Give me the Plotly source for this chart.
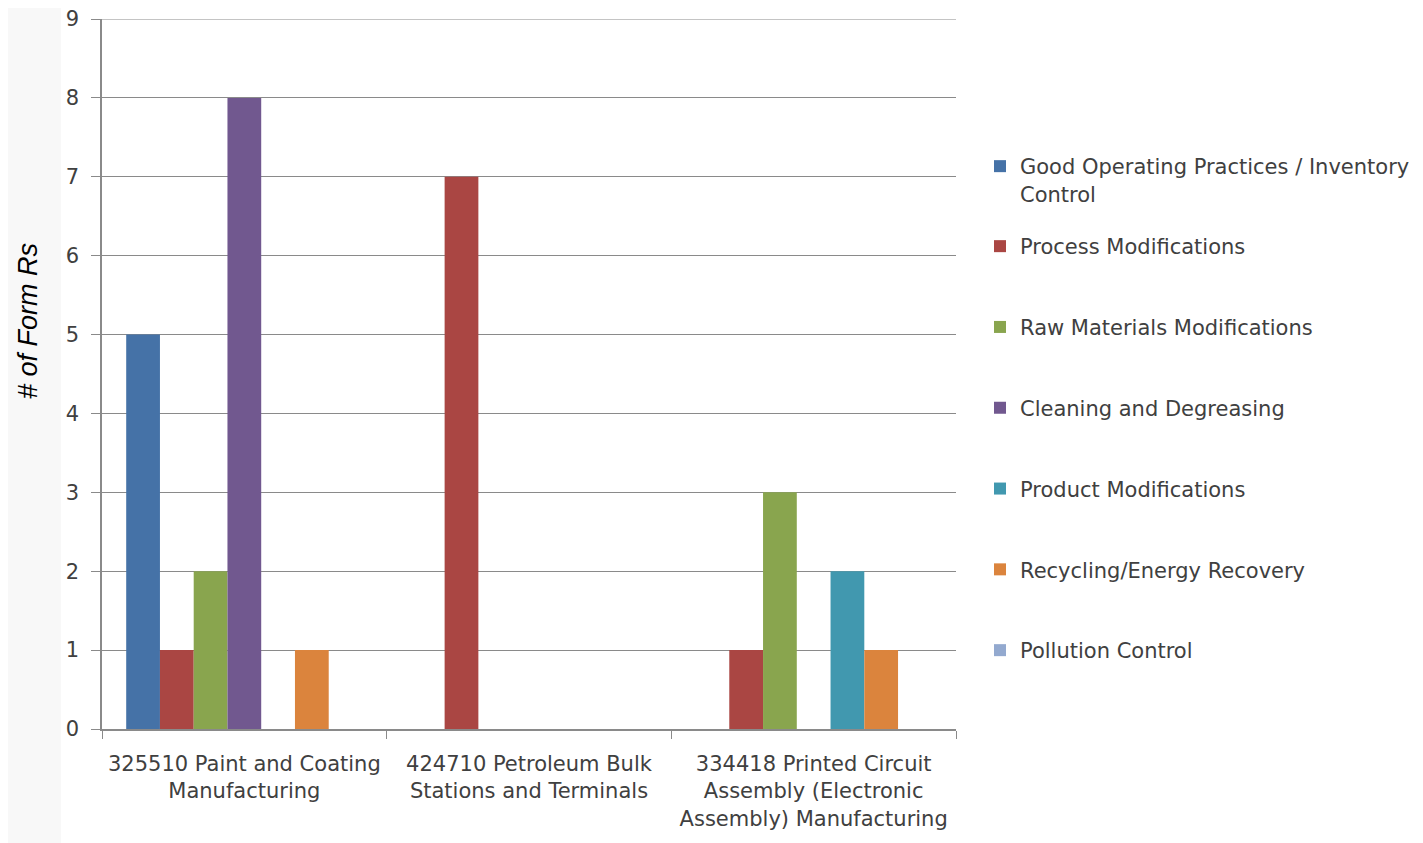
import plotly.graph_objects as go

categories = [
    "325510 Paint and Coating<br>Manufacturing",
    "424710 Petroleum Bulk<br>Stations and Terminals",
    "334418 Printed Circuit<br>Assembly (Electronic<br>Assembly) Manufacturing",
]
series_names = [
    "Good Operating Practices / Inventory<br>Control",
    "Process Modifications",
    "Raw Materials Modifications",
    "Cleaning and Degreasing",
    "Product Modifications",
    "Recycling/Energy Recovery",
    "Pollution Control",
]
good_operating = [5, 0, 0]
process_mod = [1, 7, 1]
raw_materials = [2, 0, 3]
cleaning = [8, 0, 0]
product_mod = [0, 0, 2]
recycling = [1, 0, 1]
pollution = [0, 0, 0]
y_ticks = [0, 1, 2, 3, 4, 5, 6, 7, 8, 9]
y_title = "# of Form Rs"

series_values = [good_operating, process_mod, raw_materials, cleaning,
                 product_mod, recycling, pollution]
colors = ["#4572A7", "#AA4643", "#89A54E", "#71588F", "#4198AF", "#DB843D", "#93A9CF"]

FONT = "DejaVu Sans"
FS = 21
TXT = "#404040"
GRID = "#8a8a8a"

fig = go.Figure()
for i, (name, vals, col) in enumerate(zip(series_names, series_values, colors)):
    fig.add_trace(go.Bar(
        x=categories, y=vals, name=name, marker_color=col,
        marker_line_width=0, legendgroup=f"g{i}",
        legend="legend" if i == 0 else "legend2",
    ))

# the page places the figure 8px from the top-left corner
W, H = 1415, 835
L, T = 94, 11
R, B = W - 948, H - 721
pw, ph = W - L - R, H - T - B

legend_common = dict(
    xref="container", yref="container", xanchor="left", yanchor="top",
    font=dict(family=FONT, size=FS, color=TXT), itemwidth=30,
    bgcolor="rgba(0,0,0,0)", valign="top", maxheight=800,
)

fig.update_layout(
    width=W, height=H,
    margin=dict(l=L, r=R, t=T, b=B, autoexpand=False),
    paper_bgcolor="#f8f8f8",
    plot_bgcolor="white",
    barmode="group",
    bargap=0.17,
    bargroupgap=0,
    font=dict(family=FONT, size=FS, color=TXT),
    showlegend=True,
    legend=dict(legend_common, x=972 / W, y=1 - 138 / H),
    legend2=dict(legend_common, x=972 / W, y=1 - 218 / H, tracegroupgap=50.5),
    xaxis=dict(
        showgrid=False, showline=True, linecolor=GRID, linewidth=1.5,
        ticks="outside", tickson="boundaries", ticklen=8, tickcolor=GRID,
        tickfont=dict(family=FONT, size=FS, color=TXT),
        ticklabelstandoff=15,
    ),
    yaxis=dict(
        range=[0, 9], tickvals=y_ticks, showgrid=True, gridcolor=GRID,
        gridwidth=1, showline=True, linecolor=GRID, linewidth=1.5,
        ticks="outside", ticklen=9, tickcolor=GRID,
        tickfont=dict(family=FONT, size=FS, color=TXT),
        ticklabelstandoff=8, zeroline=False, ticklabeloverflow="allow",
    ),
    annotations=[dict(
        text=y_title, xref="paper", yref="paper",
        x=(20 - L) / pw, y=(721 - 313) / ph, xanchor="center", yanchor="middle",
        textangle=-90, showarrow=False,
        font=dict(family="Liberation Sans", size=27, color="#000000", style="italic"),
    )],
    shapes=[
        dict(
            type="rect", xref="paper", yref="paper", layer="below",
            x0=(53 - L) / pw, x1=(W - L) / pw, y0=-(H - 721) / ph, y1=(721 + 4) / ph,
            fillcolor="white", line_width=0,
        ),
        # top gridline at the axis maximum (plotly omits gridlines on the plot edge)
        dict(
            type="line", xref="paper", yref="y", layer="above",
            x0=0, x1=1, y0=y_ticks[-1], y1=y_ticks[-1],
            line=dict(color=GRID, width=1),
        ),
    ],
)

fig.write_html("out.html")
